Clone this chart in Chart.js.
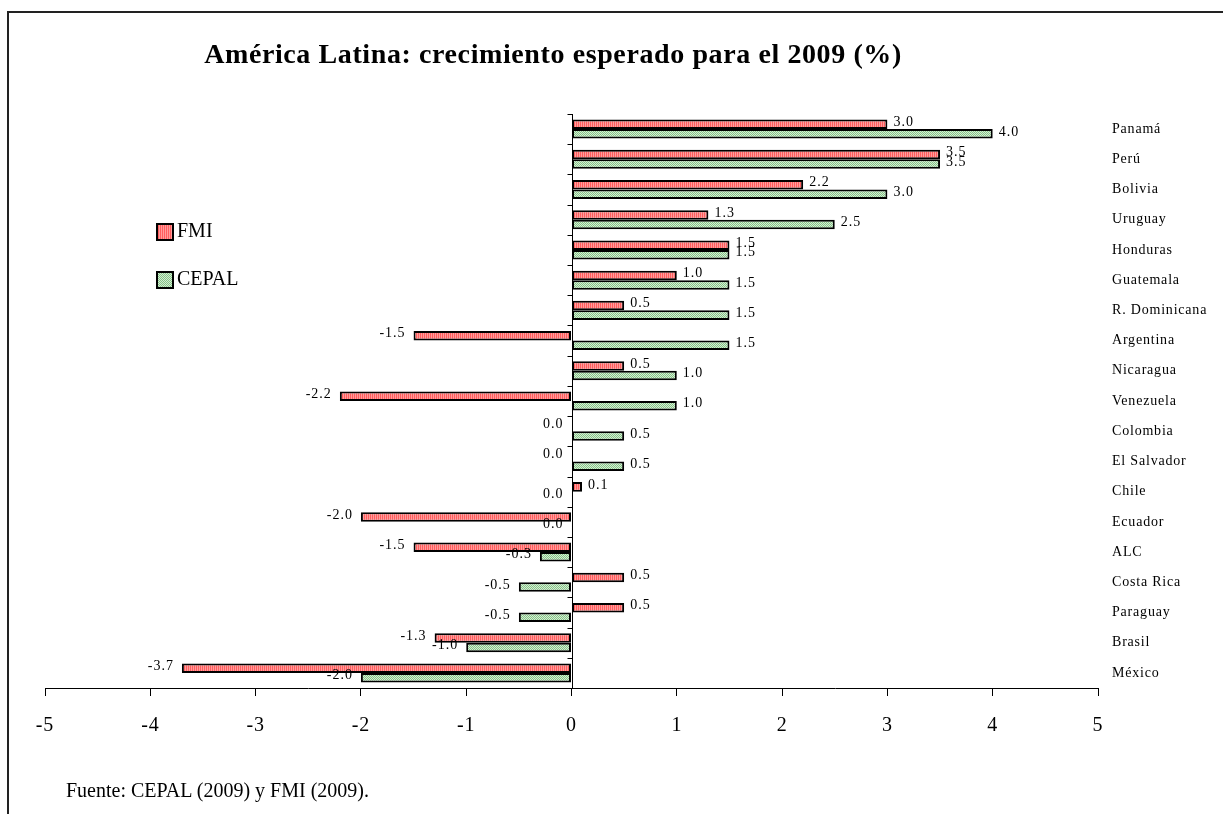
<!DOCTYPE html>
<html>
<head>
<meta charset="utf-8">
<script src="https://cdn.jsdelivr.net/npm/chart.js@4.4.1/dist/chart.umd.min.js"></script>
<style>
  body { margin: 0; background: #fff; }
  #wrap { position: relative; width: 1223px; height: 814px; overflow: hidden; }
  #frame { position: absolute; left: 7px; top: 11px; width: 1300px; height: 900px; border: 2px solid #222; }
  #chart { position: absolute; left: 0; top: 0; }
  #titulo { position: absolute; left: 553px; top: 38px; transform: translateX(-50%); white-space: nowrap;
            font: bold 28px "Liberation Serif", "Times New Roman", serif; line-height: 32px; color: #000;
            letter-spacing: 0.6px; }
  #fuente { position: absolute; left: 66px; top: 778px; white-space: nowrap;
            font: 20px "Liberation Serif", "Times New Roman", serif; line-height: 24px; color: #000; }
</style>
</head>
<body>
<div id="wrap">
  <div id="frame"></div>
  <canvas id="chart" width="1223" height="814"></canvas>
  <div id="titulo">América Latina: crecimiento esperado para el 2009 (%)</div>
  <div id="fuente">Fuente: CEPAL (2009) y FMI (2009).</div>
</div>
<script>
// Datos del gráfico
const paises = ['Panamá', 'Perú', 'Bolivia', 'Uruguay', 'Honduras', 'Guatemala', 'R. Dominicana',
  'Argentina', 'Nicaragua', 'Venezuela', 'Colombia', 'El Salvador', 'Chile', 'Ecuador', 'ALC',
  'Costa Rica', 'Paraguay', 'Brasil', 'México'];
const fmi   = [3.0, 3.5, 2.2, 1.3, 1.5, 1.0, 0.5, -1.5, 0.5, -2.2, 0.0, 0.0, 0.1, -2.0, -1.5, 0.5, 0.5, -1.3, -3.7];
const cepal = [4.0, 3.5, 3.0, 2.5, 1.5, 1.5, 1.5, 1.5, 1.0, 1.0, 0.5, 0.5, 0.0, 0.0, -0.3, -0.5, -0.5, -1.0, -2.0];
const ejeX = [-5, -4, -3, -2, -1, 0, 1, 2, 3, 4, 5];

const serif = '"Liberation Serif", "Times New Roman", serif';

// Tramas de relleno
function rayas() {
  const c = document.createElement('canvas');
  c.width = 2; c.height = 2;
  const g = c.getContext('2d');
  g.fillStyle = '#ff9c9c'; g.fillRect(0, 0, 2, 2);
  g.fillStyle = '#ff5e5e'; g.fillRect(0, 0, 1, 2);
  return g.createPattern(c, 'repeat');
}
function puntos() {
  const c = document.createElement('canvas');
  c.width = 2; c.height = 2;
  const g = c.getContext('2d');
  g.fillStyle = '#d4ecd4'; g.fillRect(0, 0, 2, 2);
  g.fillStyle = '#86c486'; g.fillRect(0, 0, 1, 1); g.fillRect(1, 1, 1, 1);
  return g.createPattern(c, 'repeat');
}

// Espaciado de letras para los nombres de los países (ejes se dibujan antes que las barras)
const espaciado = {
  id: 'espaciado',
  beforeDraw(chart) { chart.ctx.letterSpacing = '0.8px'; },
  beforeDatasetsDraw(chart) { chart.ctx.letterSpacing = '0px'; }
};

// Eje vertical en cero con marcas entre categorías
const ejeCero = {
  id: 'ejeCero',
  afterDatasetsDraw(chart) {
    const { ctx, chartArea } = chart;
    const x0 = Math.round(chart.scales.x.getPixelForValue(0)) + 0.5;
    const paso = (chartArea.bottom - chartArea.top) / paises.length;
    ctx.save();
    ctx.strokeStyle = '#000';
    ctx.lineWidth = 1;
    ctx.beginPath();
    ctx.moveTo(x0, chartArea.top);
    ctx.lineTo(x0, chartArea.bottom);
    for (let i = 0; i <= paises.length; i++) {
      const y = Math.round(chartArea.top + i * paso) + 0.5;
      ctx.moveTo(x0 - 5, y);
      ctx.lineTo(x0, y);
    }
    ctx.stroke();
    ctx.restore();
  }
};

// Etiquetas de valores
const etiquetas = {
  id: 'etiquetas',
  afterDatasetsDraw(chart) {
    const ctx = chart.ctx;
    ctx.save();
    ctx.font = '14px ' + serif;
    ctx.letterSpacing = '1px';
    ctx.fillStyle = '#000';
    ctx.textBaseline = 'middle';
    chart.data.datasets.forEach((ds, i) => {
      chart.getDatasetMeta(i).data.forEach((bar, j) => {
        const v = ds.data[j];
        if (v > 0) {
          ctx.textAlign = 'left';
          ctx.fillText(v.toFixed(1), bar.x + 6, bar.y - 2);
        } else {
          ctx.textAlign = 'right';
          ctx.fillText(v.toFixed(1), bar.x - 8, bar.y - 2);
        }
      });
    });
    ctx.letterSpacing = '0px';
    ctx.restore();
  }
};

// Leyenda dentro del gráfico
const leyenda = {
  id: 'leyenda',
  afterDraw(chart) {
    const ctx = chart.ctx;
    ctx.save();
    chart.data.datasets.forEach((ds, i) => {
      const y = 224 + i * 48;
      ctx.fillStyle = ds.backgroundColor;
      ctx.fillRect(157, y, 16, 16);
      ctx.strokeStyle = '#000';
      ctx.lineWidth = 2;
      ctx.strokeRect(157, y, 16, 16);
      ctx.fillStyle = '#000';
      ctx.font = '20px ' + serif;
      ctx.textAlign = 'left';
      ctx.textBaseline = 'middle';
      ctx.fillText(ds.label, 177, y + 8);
    });
    ctx.restore();
  }
};

const ctx = document.getElementById('chart').getContext('2d');
const grafico = new Chart(ctx, {
  type: 'bar',
  data: {
    labels: paises,
    datasets: [
      { label: 'FMI', data: fmi, backgroundColor: rayas(), borderColor: '#000', borderWidth: 2, borderSkipped: false },
      { label: 'CEPAL', data: cepal, backgroundColor: puntos(), borderColor: '#000', borderWidth: 2, borderSkipped: false }
    ]
  },
  options: {
    indexAxis: 'y',
    responsive: false,
    animation: false,
    layout: { padding: { left: 45, right: 0, top: 114, bottom: 66 } },
    datasets: { bar: { categoryPercentage: 0.63, barPercentage: 1.0 } },
    plugins: { legend: { display: false }, tooltip: { enabled: false }, title: { display: false } },
    scales: {
      x: {
        type: 'linear',
        min: -5,
        max: 5,
        afterBuildTicks(scale) { scale.ticks = ejeX.map(v => ({ value: v })); },
        afterFit(scale) { scale.height = 60; },
        border: { display: true, color: '#000', width: 1 },
        grid: { drawOnChartArea: false, drawTicks: true, tickLength: 8, color: '#000' },
        ticks: { font: { family: serif, size: 20 }, color: '#000', padding: 18 }
      },
      y: {
        position: 'right',
        afterFit(scale) { scale.width = 125; },
        border: { display: false },
        grid: { display: false, drawTicks: false },
        ticks: { font: { family: serif, size: 14 }, color: '#000', padding: 14, crossAlign: 'near' }
      }
    }
  },
  plugins: [espaciado, ejeCero, etiquetas, leyenda]
});
</script>
</body>
</html>
